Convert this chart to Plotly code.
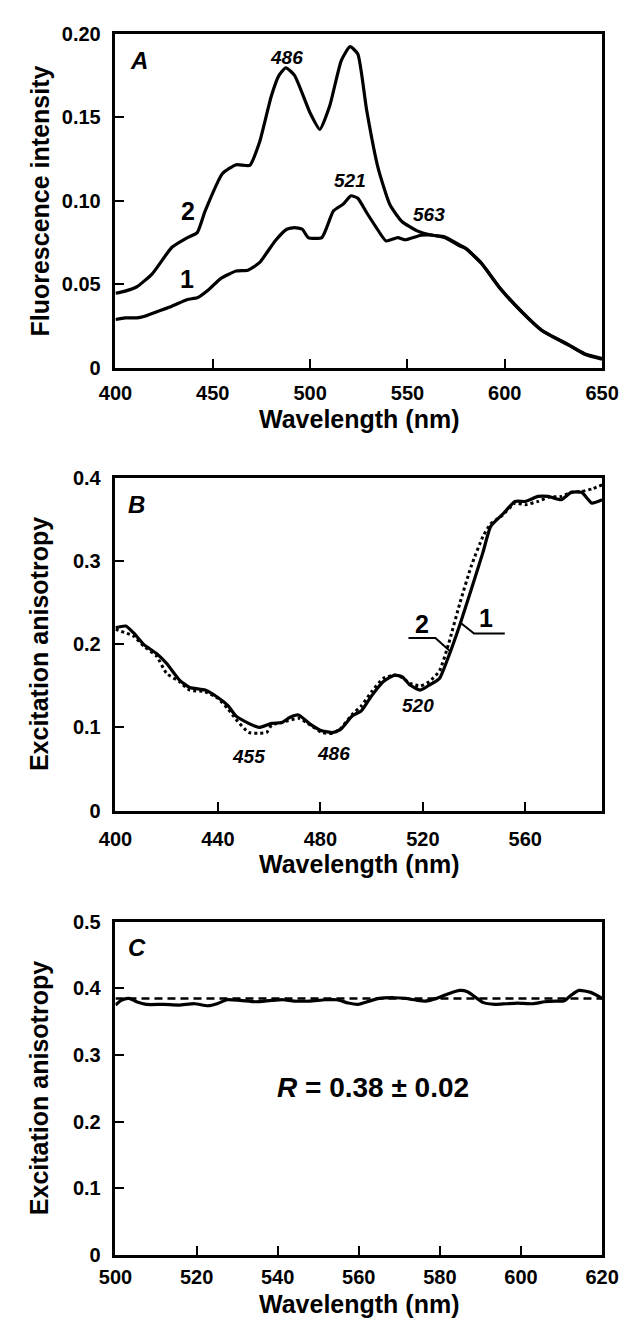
import plotly.graph_objects as go

W, H = 639, 1332

# ---------------- Panel A data ----------------
A_wl_1 = [400, 405, 411, 415, 422, 429, 437, 442, 448, 454, 462, 468, 474, 482, 488, 492, 496, 499, 506, 512,
          517, 521, 524.5, 529, 534, 539, 545, 549, 557, 563, 569, 577, 580, 588, 598, 609, 619, 633, 641, 650]
A_val_1 = [0.029, 0.030, 0.030, 0.031, 0.034, 0.037, 0.041, 0.042, 0.047, 0.0535, 0.058, 0.0585, 0.063, 0.076,
           0.083, 0.084, 0.083, 0.078, 0.078, 0.094, 0.098, 0.103, 0.1015, 0.093, 0.084, 0.076, 0.078, 0.0767,
           0.0794, 0.0794, 0.078, 0.073, 0.0714, 0.0625, 0.0469, 0.0331, 0.0224, 0.0135, 0.0086, 0.0057]
A_wl_2 = [400, 405, 411, 419, 429, 437, 442, 446, 455, 462, 469, 474, 480, 484, 487.5, 492, 500, 505, 510, 516,
          520.5, 524.5, 529, 535, 541, 547, 555, 563, 569, 577, 580, 588, 598, 609, 619, 633, 641, 650]
A_val_2 = [0.0447, 0.046, 0.0486, 0.0565, 0.0722, 0.078, 0.081, 0.0937, 0.1163, 0.1216, 0.1212, 0.135, 0.1624,
           0.175, 0.1796, 0.175, 0.1525, 0.1427, 0.1565, 0.1839, 0.1922, 0.1878, 0.1545, 0.1192, 0.0976, 0.0878,
           0.082, 0.0794, 0.0785, 0.0735, 0.0716, 0.0628, 0.0472, 0.0334, 0.0226, 0.0138, 0.0082, 0.0052]
A_xticks = [400, 450, 500, 550, 600, 650]
A_yticks = [0, 0.05, 0.10, 0.15, 0.20]
A_ytext = ["0", "0.05", "0.10", "0.15", "0.20"]

# ---------------- Panel B data ----------------
B_wl_1 = [400, 404, 407, 411, 416, 420, 425, 429, 435, 440, 444, 447, 452, 456, 461, 465, 468, 471.5, 476, 480.5,
          485, 488, 492.5, 496, 500, 504.5, 509, 512, 515, 519, 522.5, 526.5, 530, 534.5, 539, 543.5, 546.5, 551,
          556, 560, 565, 569, 574, 578, 582, 586, 590]
B_val_1 = [0.220, 0.222, 0.214, 0.200, 0.189, 0.177, 0.157, 0.148, 0.145, 0.136, 0.126, 0.114, 0.105, 0.100,
           0.105, 0.106, 0.112, 0.115, 0.104, 0.096, 0.094, 0.098, 0.114, 0.120, 0.138, 0.155, 0.163, 0.161,
           0.151, 0.145, 0.151, 0.159, 0.185, 0.224, 0.267, 0.311, 0.342, 0.356, 0.372, 0.372, 0.378, 0.378,
           0.374, 0.383, 0.383, 0.370, 0.374]
B_wl_2 = [400, 407, 411, 416, 420, 425, 429, 435, 440, 444, 447, 452, 456, 459, 461, 465, 471.5, 476, 480.5, 485,
          488, 492.5, 496, 500, 504.5, 509, 512, 515, 519, 522.5, 526.5, 530, 534.5, 539, 543.5, 546.5, 551, 556,
          560, 565, 569, 574, 578, 582, 586, 590]
B_val_2 = [0.218, 0.210, 0.198, 0.186, 0.165, 0.155, 0.145, 0.143, 0.135, 0.122, 0.110, 0.094, 0.093, 0.094,
           0.103, 0.106, 0.111, 0.103, 0.094, 0.093, 0.099, 0.116, 0.126, 0.143, 0.159, 0.163, 0.160, 0.153,
           0.150, 0.155, 0.168, 0.200, 0.250, 0.295, 0.330, 0.345, 0.355, 0.370, 0.368, 0.372, 0.377, 0.378,
           0.383, 0.384, 0.387, 0.392]
B_xticks = [400, 440, 480, 520, 560]
B_yticks = [0, 0.1, 0.2, 0.3, 0.4]
B_ytext = ["0", "0.1", "0.2", "0.3", "0.4"]
# leader lines for curve labels (wavelength, value)
B_lead_2_wl = [514.4, 524.9, 530.9]
B_lead_2_val = [0.2077, 0.2077, 0.191]
B_lead_1_wl = [534.7, 540.0, 552.0]
B_lead_1_val = [0.226, 0.213, 0.213]

# ---------------- Panel C data ----------------
C_wl = [500, 501.4, 503.3, 505.2, 507.6, 511.9, 515.7, 519.5, 522.8, 525.1, 527.5, 530.8, 534.6, 538.4, 541.3,
        544.1, 547.9, 551.7, 554.6, 557.4, 559.8, 562.1, 565, 568.8, 571.6, 574.5, 576.4, 579.2, 582.1, 584.9,
        586.8, 588.7, 590.6, 593.5, 596.3, 599.1, 602.9, 605.8, 608.6, 610.5, 612.4, 614.3, 617.2, 620]
C_val = [0.375, 0.382, 0.385, 0.380, 0.376, 0.376, 0.375, 0.377, 0.374, 0.377, 0.383, 0.382, 0.380, 0.382,
         0.383, 0.381, 0.381, 0.383, 0.383, 0.378, 0.376, 0.380, 0.385, 0.386, 0.385, 0.382, 0.381, 0.385,
         0.392, 0.397, 0.395, 0.387, 0.379, 0.376, 0.377, 0.378, 0.377, 0.380, 0.381, 0.381, 0.390, 0.397,
         0.394, 0.385]
C_mean_wl = [500, 620]
C_mean_val = [0.385, 0.385]
C_xticks = [500, 520, 540, 560, 580, 600, 620]
C_yticks = [0, 0.1, 0.2, 0.3, 0.4, 0.5]
C_ytext = ["0", "0.1", "0.2", "0.3", "0.4", "0.5"]

FONT = "Liberation Sans, Arial, Helvetica, sans-serif"
BLACK = "#000000"

# plot-area pixel boxes (left, right, top, bottom)
XL, XR = 104, 618
boxes = {"A": (23, 363), "B": (475, 813), "C": (926, 1265)}


def ydom(top, bot):
    return [1 - bot / H, 1 - top / H]


fig = go.Figure()
line_kw = dict(color=BLACK, width=3.2)

fig.add_trace(go.Scatter(x=A_wl_1, y=A_val_1, mode="lines", line=dict(**line_kw, shape="spline", smoothing=0.5),
                         xaxis="x", yaxis="y", showlegend=False))
fig.add_trace(go.Scatter(x=A_wl_2, y=A_val_2, mode="lines", line=dict(**line_kw, shape="spline", smoothing=0.5),
                         xaxis="x", yaxis="y", showlegend=False))
fig.add_trace(go.Scatter(x=B_wl_2, y=B_val_2, mode="lines",
                         line=dict(color=BLACK, width=3, dash="dot", shape="spline", smoothing=0.5),
                         xaxis="x2", yaxis="y2", showlegend=False))
fig.add_trace(go.Scatter(x=B_wl_1, y=B_val_1, mode="lines", line=dict(**line_kw, shape="spline", smoothing=0.5),
                         xaxis="x2", yaxis="y2", showlegend=False))
fig.add_trace(go.Scatter(x=B_lead_2_wl, y=B_lead_2_val, mode="lines", line=dict(color=BLACK, width=2),
                         xaxis="x2", yaxis="y2", showlegend=False))
fig.add_trace(go.Scatter(x=B_lead_1_wl, y=B_lead_1_val, mode="lines", line=dict(color=BLACK, width=2),
                         xaxis="x2", yaxis="y2", showlegend=False))
fig.add_trace(go.Scatter(x=C_mean_wl, y=C_mean_val, mode="lines",
                         line=dict(color=BLACK, width=2.5, dash="8px,5px"),
                         xaxis="x3", yaxis="y3", showlegend=False))
fig.add_trace(go.Scatter(x=C_wl, y=C_val, mode="lines", line=dict(**line_kw, shape="spline", smoothing=0.6),
                         xaxis="x3", yaxis="y3", showlegend=False))

xdom = [XL / W, XR / W]
axis_common = dict(showline=True, linecolor=BLACK, linewidth=2.5, mirror=True, ticks="inside",
                   ticklen=9, tickwidth=2, tickcolor=BLACK, showgrid=False, zeroline=False,
                   tickfont=dict(family=FONT, size=20, color=BLACK, weight="bold"))

fig.update_layout(
    width=W, height=H,
    margin=dict(l=0, r=0, t=0, b=0),
    paper_bgcolor="white", plot_bgcolor="white",
    font=dict(family=FONT, color=BLACK, weight="bold"),
    xaxis=dict(domain=xdom, range=[400, 650], tickvals=A_xticks, anchor="y", ticklabelstandoff=5, **axis_common),
    yaxis=dict(domain=ydom(*boxes["A"]), range=[0, 0.20], tickvals=A_yticks, ticktext=A_ytext, anchor="x",
               ticklabelstandoff=8, **axis_common),
    xaxis2=dict(domain=xdom, range=[400, 590], tickvals=B_xticks, anchor="y2", ticklabelstandoff=9, **axis_common),
    yaxis2=dict(domain=ydom(*boxes["B"]), range=[0, 0.4], tickvals=B_yticks, ticktext=B_ytext, anchor="x2",
                ticklabelstandoff=8, **axis_common),
    xaxis3=dict(domain=xdom, range=[500, 620], tickvals=C_xticks, anchor="y3", ticklabelstandoff=2, **axis_common),
    yaxis3=dict(domain=ydom(*boxes["C"]), range=[0, 0.5], tickvals=C_yticks, ticktext=C_ytext, anchor="x3",
                ticklabelstandoff=8, **axis_common),
)

ann = []
# axis titles
xt_centers = {"A": 415, "B": 867, "C": 1315}
for k, yc in xt_centers.items():
    ann.append(dict(text="Wavelength (nm)", xref="paper", yref="paper", x=(XL + XR) / 2 / W, y=1 - yc / H,
                    xanchor="center", yanchor="middle", showarrow=False,
                    font=dict(family=FONT, size=25, color=BLACK, weight="bold")))
ytitles = {"A": "Fluorescence intensity", "B": "Excitation anisotropy", "C": "Excitation anisotropy"}
for k, t in ytitles.items():
    top, bot = boxes[k]
    ann.append(dict(text=t, xref="paper", yref="paper", x=24 / W, y=1 - (top + bot) / 2 / H, textangle=-90,
                    xanchor="center", yanchor="middle", showarrow=False,
                    font=dict(family=FONT, size=25, color=BLACK, weight="bold")))

italic = dict(family=FONT, size=19, color=BLACK, weight="bold", style="italic")
big = dict(family=FONT, size=25, color=BLACK, weight="bold")
# panel A labels
ann += [
    dict(text="A", x=412, y=0.184, xref="x", yref="y", showarrow=False, font=dict(italic, size=24)),
    dict(text="486", x=488, y=0.186, xref="x", yref="y", showarrow=False, font=italic),
    dict(text="521", x=520.5, y=0.1123, xref="x", yref="y", showarrow=False, font=italic),
    dict(text="563", x=561, y=0.0918, xref="x", yref="y", showarrow=False, font=italic),
    dict(text="2", x=437.5, y=0.0937, xref="x", yref="y", showarrow=False, font=big),
    dict(text="1", x=436.6, y=0.0535, xref="x", yref="y", showarrow=False, font=big),
]
# panel B labels
ann += [
    dict(text="B", x=408.3, y=0.368, xref="x2", yref="y2", showarrow=False, font=dict(italic, size=24)),
    dict(text="455", x=452, y=0.065, xref="x2", yref="y2", showarrow=False, font=italic),
    dict(text="486", x=485, y=0.069, xref="x2", yref="y2", showarrow=False, font=italic),
    dict(text="520", x=518.2, y=0.126, xref="x2", yref="y2", showarrow=False, font=italic),
    dict(text="2", x=519.7, y=0.224, xref="x2", yref="y2", showarrow=False, font=big),
    dict(text="1", x=544.5, y=0.232, xref="x2", yref="y2", showarrow=False, font=big),
]
# panel C labels
ann += [
    dict(text="C", x=505.2, y=0.461, xref="x3", yref="y3", showarrow=False, font=dict(italic, size=24)),
    dict(text="<i>R</i> = 0.38 ± 0.02", x=563.6, y=0.252, xref="x3", yref="y3", showarrow=False,
         font=dict(family=FONT, size=28, color=BLACK, weight="bold")),
]
fig.update_layout(annotations=ann)

fig.write_html("out.html")
